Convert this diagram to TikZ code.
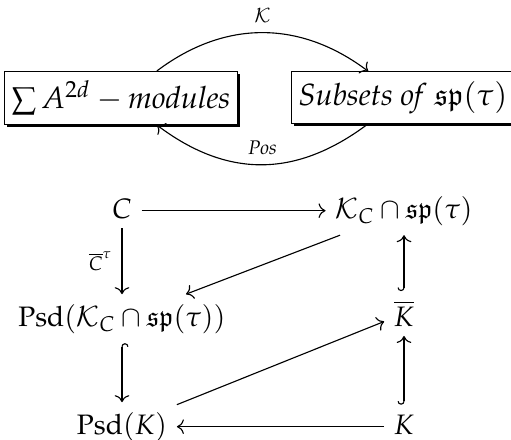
\documentclass[tikz,border=0pt]{standalone}
\usepackage[T1]{fontenc}
\usepackage{mathpazo}
\usepackage{amssymb}
\usetikzlibrary{arrows.meta,shadows}
\tikzset{
  shadowed/.style={draw, fill=white, line width=0.4pt, inner xsep=2.5pt, minimum height=0.6cm,
    font=\fontsize{10.9}{13}\selectfont,
    drop shadow={shadow xshift=1pt, shadow yshift=-1pt, fill=black, opacity=1}},
  obj/.style={anchor=base, inner sep=3.3pt},
  map/.style={-{Computer Modern Rightarrow}},
  incl/.style={{Hooks[right]}-{Computer Modern Rightarrow}},
  lbl/.style={font=\scriptsize},
}

\begin{document}
\begin{tikzpicture}
  \useasboundingbox (0,0) rectangle (6.3875,-5.4875);
  % the two boxes and the maps between them
  \node[shadowed] (mods) at (1.5125,-1.225) {$\sum A^{2d} - \textit{modules}$};
  \node[shadowed] (subsets) at (5.0375,-1.219) {\textit{Subsets of} $\mathfrak{sp}(\tau)$};
  \draw[map] (mods) to[out=37, in=143, looseness=1.03] node[lbl, above] {$\mathcal{K}$} (subsets);
  \draw[map] (subsets) to[out=-143, in=-37, looseness=1.08] node[lbl, above] {\textit{Pos}} (mods);

  % square below
  \node[obj] (c) at (1.525,-2.725) {$C$};
  \node[obj] (kc) at (5.05,-2.725) {$\mathcal{K}_C \cap \mathfrak{sp}(\tau)$};
  \node[obj] (psdkc) at (1.525,-4.075) {$\mathrm{Psd}(\mathcal{K}_C \cap \mathfrak{sp}(\tau))$};
  \node[obj] (kbar) at (5.05,-4.075) {$\overline{K}$};
  \node[obj] (psdk) at (1.525,-5.425) {$\mathrm{Psd}(K)$};
  \node[obj] (k) at (5.05,-5.425) {$K$};

  \draw[map] (c.east |- kc.west) -- (kc.west);
  \draw[map] (c) -- node[lbl, left] {$\overline{C}^{\tau}$} (psdkc);
  \draw[map] (kc) -- (psdkc);
  \draw[incl] (kbar) -- (kc);
  \draw[incl] (psdkc) -- (psdk);
  \draw[map] (psdk) -- (kbar);
  \draw[incl] (k) -- (kbar);
  \draw[map] (psdk.east -| k.west) -- (psdk.east);
\end{tikzpicture}
\end{document}
